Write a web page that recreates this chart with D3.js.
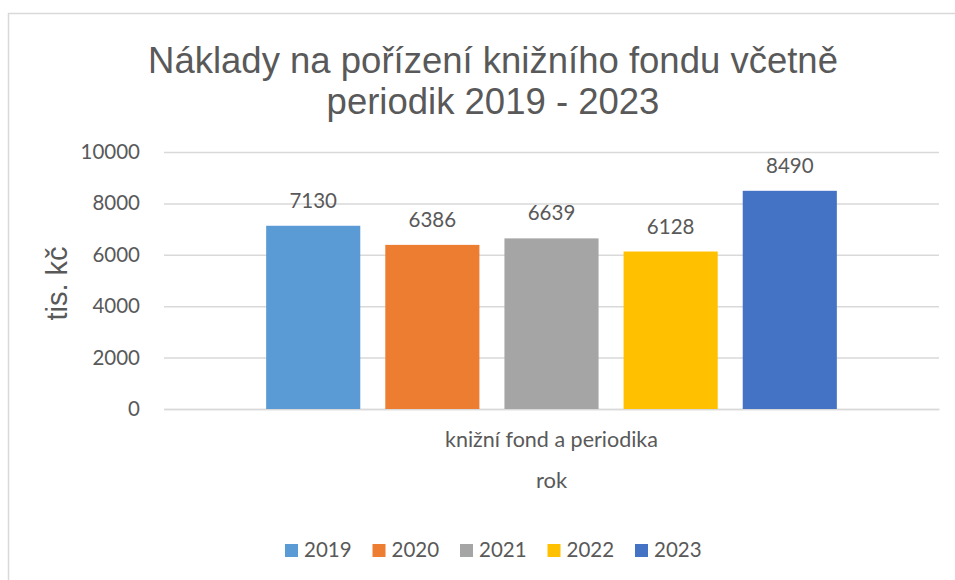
<!DOCTYPE html>
<html>
<head>
<meta charset="utf-8">
<script src="https://cdn.jsdelivr.net/npm/d3@7"></script>
<style>
  body { margin: 0; background: #fff; }
  svg { display: block; }
</style>
</head>
<body>
<div id="field"></div>
<script>

// data
const titleLines = ["Náklady na pořízení knižního fondu včetně", "periodik 2019 - 2023"];
const categories = ["knižní fond a periodika"];
const years = ["2019", "2020", "2021", "2022", "2023"];
const values = [7130, 6386, 6639, 6128, 8490];
const colors = ["#5B9BD5", "#ED7D31", "#A5A5A5", "#FFC000", "#4472C4"];
const yTicks = [0, 2000, 4000, 6000, 8000, 10000];
const yTitle = "tis. kč";
const xTitle = "rok";

const width = 955;
const height = 580;

const plotLeft = 164;
const plotRight = 939;
const plotTop = 152;
const plotBottom = 409;

const textColor = "#595959";
const gridColor = "#d9d9d9";
const bodyFont = "Lato, 'Open Sans', sans-serif";
const titleFont = "'Liberation Sans', Arial, sans-serif";

const chart = d3.select("#field")
    .append("svg")
    .attr("width", width)
    .attr("height", height);

// chart border (runs off the right and bottom edge)
chart.append("rect")
    .attr("x", 8.5)
    .attr("y", 13.5)
    .attr("width", width + 20)
    .attr("height", height + 20)
    .attr("fill", "#fff")
    .attr("stroke", gridColor)
    .attr("stroke-width", 1.5);

// title
chart.append("text")
    .attr("text-anchor", "middle")
    .attr("font-family", titleFont)
    .attr("font-size", 36.5)
    .attr("fill", textColor)
    .selectAll("tspan")
    .data(titleLines)
    .enter().append("tspan")
    .attr("x", 493)
    .attr("y", function(d, i) { return 73 + i * 41; })
    .text(function(d) { return d; });

// scales

const yScale = d3.scaleLinear()
    .domain([0, 10000])
    .range([plotBottom, plotTop]);

const xScale = d3.scaleBand()
    .domain(categories)
    .range([plotLeft, plotRight])
    .paddingInner(0)
    .paddingOuter(0.179);

const xInner = d3.scaleBand()
    .domain(years)
    .range([0, xScale.bandwidth()])
    .paddingInner(0.21)
    .paddingOuter(0);

const colorScale = d3.scaleOrdinal()
    .domain(years)
    .range(colors);

// y axis with gridlines

const yAxis = d3.axisLeft(yScale)
    .tickValues(yTicks)
    .tickFormat(d3.format("d"))
    .tickSize(-(plotRight - plotLeft))
    .tickPadding(24);

const yAxisG = chart.append("g")
    .attr("transform", "translate(" + plotLeft + ",0)")
    .call(yAxis);

yAxisG.select(".domain").remove();
yAxisG.selectAll(".tick line")
    .attr("stroke", gridColor)
    .attr("stroke-width", 1.5);
yAxisG.selectAll(".tick text")
    .attr("fill", textColor)
    .attr("font-family", bodyFont)
    .attr("font-size", 20.5);

// x axis

const xAxis = d3.axisBottom(xScale)
    .tickSize(0);

const xAxisG = chart.append("g")
    .attr("transform", "translate(0," + plotBottom + ")")
    .call(xAxis);

xAxisG.select(".domain")
    .attr("stroke", gridColor)
    .attr("stroke-width", 1.5);
xAxisG.selectAll(".tick text")
    .attr("dy", null)
    .attr("y", 38)
    .attr("fill", textColor)
    .attr("font-family", bodyFont)
    .attr("font-size", 21.5);

// bars

const rows = years.map(function(y, i) {
    return {category: categories[0], year: y, value: values[i]};
});

const bars = chart.append("g");

bars.selectAll("rect")
    .data(rows)
    .enter().append("rect")
    .attr("x", function(d) { return xScale(d.category) + xInner(d.year); })
    .attr("y", function(d) { return yScale(d.value); })
    .attr("width", xInner.bandwidth())
    .attr("height", function(d) { return yScale(0) - yScale(d.value); })
    .attr("fill", function(d) { return colorScale(d.year); });

bars.selectAll("text")
    .data(rows)
    .enter().append("text")
    .attr("x", function(d) { return xScale(d.category) + xInner(d.year) + xInner.bandwidth() / 2; })
    .attr("y", function(d) { return yScale(d.value) - 18; })
    .attr("text-anchor", "middle")
    .attr("fill", textColor)
    .attr("font-family", bodyFont)
    .attr("font-size", 20.5)
    .text(function(d) { return d.value; });

// axis titles

chart.append("text")
    .attr("transform", "translate(67," + ((plotTop + plotBottom) / 2 + 3) + ") rotate(-90)")
    .attr("text-anchor", "middle")
    .attr("fill", textColor)
    .attr("font-family", titleFont)
    .attr("font-size", 29)
    .text(yTitle);

chart.append("text")
    .attr("x", xScale(categories[0]) + xScale.bandwidth() / 2)
    .attr("y", 488)
    .attr("text-anchor", "middle")
    .attr("fill", textColor)
    .attr("font-family", bodyFont)
    .attr("font-size", 22)
    .text(xTitle);

// legend

const legendStart = 285;
const legendStep = 87.5;

const legend = chart.append("g")
    .selectAll("g")
    .data(years)
    .enter().append("g")
    .attr("transform", function(d, i) { return "translate(" + (legendStart + i * legendStep) + ",544)"; });

legend.append("rect")
    .attr("width", 13)
    .attr("height", 13)
    .attr("fill", function(d) { return colorScale(d); });

legend.append("text")
    .attr("x", 19)
    .attr("y", 13)
    .attr("fill", textColor)
    .attr("font-family", bodyFont)
    .attr("font-size", 20.5)
    .text(function(d) { return d; });

</script>
</body>
</html>
